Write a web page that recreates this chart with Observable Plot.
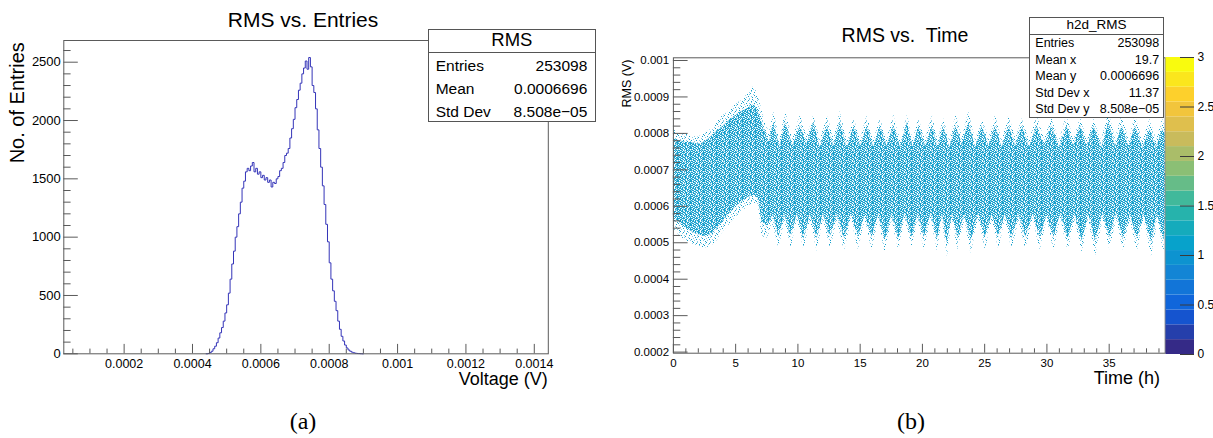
<!DOCTYPE html>
<html><head><meta charset="utf-8">
<script src="https://cdn.jsdelivr.net/npm/d3@7"></script>
<script src="https://cdn.jsdelivr.net/npm/@observablehq/plot@0.6"></script>
<style>
html,body{margin:0;padding:0;background:#fff;}
#fig{position:relative;width:1213px;height:438px;overflow:hidden;background:#fff;font-family:"Liberation Sans",Arial,sans-serif;color:#000;}
.abs{position:absolute;white-space:pre;line-height:1;}
.box{position:absolute;background:#fff;border:1px solid #555;box-sizing:border-box;}
.pl{position:absolute;top:0;}
</style></head><body><div id="fig"></div>
<script>
// ---------------- DATA ----------------
// (a) histogram of RMS voltage
const histBinStart = 0.00044;
const histBinWidth = 0.000005;
const histCounts = [
  0, 3, 10, 22, 43, 65, 95, 135, 180, 225,
  280, 350, 420, 520, 640, 770, 880, 1000, 1090, 1200,
  1300, 1420, 1480, 1560, 1590, 1570, 1610, 1640, 1560, 1590,
  1540, 1560, 1510, 1530, 1490, 1510, 1470, 1490, 1430, 1470,
  1460, 1500, 1520, 1570, 1590, 1640, 1700, 1720, 1760, 1850,
  1930, 2010, 2110, 2180, 2260, 2320, 2400, 2450, 2510, 2440,
  2540, 2460, 2300, 2240, 2100, 1920, 1760, 1600, 1440, 1280,
  1110, 960, 780, 640, 540, 450, 370, 280, 210, 150,
  110, 75, 50, 33, 22, 14, 9, 5, 3, 2,
  1, 0
];
const voltDomain = [0.0000235, 0.001441];
const countDomain = [0, 2686];
const voltTicks = [0.0002, 0.0004, 0.0006, 0.0008, 0.001, 0.0012, 0.0014];
const voltTickLabels = ["0.0002", "0.0004", "0.0006", "0.0008", "0.001", "0.0012", "0.0014"];
const countTicks = [0, 500, 1000, 1500, 2000, 2500];
const countTickLabels = ["0", "500", "1000", "1500", "2000", "2500"];
const statsLeftLabels = ["Entries", "Mean", "Std Dev"];
const statsLeftValues = ["253098", "0.0006696", "8.508e\u221205"];

// (b) RMS vs time: envelopes of the point cloud
const upT = [0, 0.5, 1, 1.5, 2, 2.5, 3, 3.5, 4, 4.5, 5, 5.5, 6, 6.5, 6.9, 7.3, 7.7,
  8.07, 8.55, 9.0, 9.6, 10.2, 10.74, 11.28, 11.8, 12.35, 12.9, 13.4, 13.95, 14.5, 15.03,
  15.57, 16.1, 16.6, 17.15, 17.7, 18.25, 18.8, 19.25, 19.7, 20.25, 20.8, 21.25, 21.7, 22.2,
  22.7, 23.2, 23.73, 24.27, 24.8, 25.34, 25.88, 26.4, 26.95, 27.5, 28.02, 28.6, 29.2, 29.8,
  30.4, 31.0, 31.6, 32.15, 32.7, 33.25, 33.77, 34.4, 34.98, 35.5, 36.05, 36.6, 37.1, 37.7,
  38.3, 38.8, 39.3, 39.5];
const upOuter = [0.00081, 0.0008, 0.0008, 0.00079, 0.00079, 0.0008, 0.00081, 0.00083, 0.00085, 0.00086, 0.00088, 0.00089, 0.00091, 0.00093, 0.00089, 0.00084, 0.0008,
  0.00086, 0.00078, 0.00086, 0.000785, 0.00085, 0.00079, 0.00085, 0.00078, 0.00085, 0.000785, 0.00086, 0.00078, 0.00084, 0.000785,
  0.00085, 0.00078, 0.00084, 0.000785, 0.00085, 0.00078, 0.00085, 0.00078, 0.00084, 0.000785, 0.00085, 0.00078, 0.00084, 0.00078,
  0.00085, 0.00079, 0.00086, 0.00078, 0.00084, 0.000785, 0.00085, 0.00078, 0.00085, 0.000785, 0.00084, 0.00078, 0.00085, 0.000785,
  0.00084, 0.00078, 0.00085, 0.000785, 0.00085, 0.00078, 0.00084, 0.00078, 0.00086, 0.000785, 0.00085, 0.00078, 0.00085, 0.00078,
  0.00084, 0.00078, 0.00084, 0.00082];
const upInner = [0.000785, 0.00078, 0.000775, 0.000775, 0.00077, 0.000775, 0.00079, 0.000805, 0.00082, 0.000835, 0.00085, 0.00086, 0.00087, 0.00088, 0.00085, 0.00081, 0.000775,
  0.00083, 0.00076, 0.00083, 0.000765, 0.00082, 0.00077, 0.00083, 0.00076, 0.00082, 0.000765, 0.00083, 0.00076, 0.00082, 0.000765,
  0.00082, 0.00076, 0.00082, 0.000765, 0.00082, 0.00076, 0.00083, 0.00076, 0.00082, 0.000765, 0.00082, 0.00076, 0.00082, 0.00076,
  0.00082, 0.00077, 0.00083, 0.00076, 0.00082, 0.000765, 0.00082, 0.00076, 0.00082, 0.000765, 0.00082, 0.00076, 0.00082, 0.000765,
  0.00082, 0.00076, 0.00082, 0.000765, 0.00082, 0.00076, 0.00082, 0.00076, 0.00083, 0.000765, 0.00082, 0.00076, 0.00082, 0.00076,
  0.00081, 0.00076, 0.00081, 0.0008];
const loT = [0, 0.5, 1, 1.5, 2, 2.5, 3, 3.5, 4, 4.5, 5, 5.5, 6, 6.5, 6.85, 7.1, 7.5, 8.0,
  8.47, 8.95, 9.45, 9.95, 10.48, 11.0, 11.55, 12.05, 12.6, 13.15, 13.75, 14.3, 14.85, 15.4,
  15.95, 16.5, 17.0, 17.55, 18.1, 18.6, 19.15, 19.65, 20.15, 20.7, 21.2, 21.6, 22.0, 22.4,
  22.85, 23.4, 23.9, 24.5, 25.05, 25.6, 26.14, 26.65, 27.2, 27.75, 28.3, 28.9, 29.45, 30.0,
  30.56, 31.1, 31.7, 32.25, 32.84, 33.35, 33.9, 34.5, 35.05, 35.6, 36.15, 36.7, 37.25, 37.8,
  38.4, 38.9, 39.4, 39.5];
const loInner = [0.00057, 0.000555, 0.00054, 0.00053, 0.000522, 0.000518, 0.000522, 0.000538, 0.00056, 0.00058, 0.000598, 0.000612, 0.000625, 0.00063, 0.00062, 0.00056, 0.000545, 0.000575,
  0.000515, 0.000578, 0.000515, 0.00058, 0.00051, 0.000578, 0.000512, 0.00058, 0.000515, 0.000578, 0.00051, 0.00058, 0.000515, 0.000578,
  0.000515, 0.00058, 0.000505, 0.000578, 0.00051, 0.00058, 0.000515, 0.000578, 0.000515, 0.00058, 0.00051, 0.000578, 0.0005, 0.00058,
  0.000512, 0.000578, 0.000505, 0.00058, 0.000515, 0.000578, 0.000515, 0.00058, 0.000512, 0.000578, 0.000515, 0.00058, 0.000512, 0.000578,
  0.000515, 0.00058, 0.000512, 0.000578, 0.000505, 0.00058, 0.000505, 0.000578, 0.000515, 0.00058, 0.000512, 0.000578, 0.000512, 0.00058,
  0.0005, 0.000578, 0.000505, 0.00056];
const loOuter = [0.00054, 0.00052, 0.000505, 0.000495, 0.00049, 0.000485, 0.00049, 0.000505, 0.00053, 0.00055, 0.00057, 0.000585, 0.0006, 0.00061, 0.0006, 0.00052, 0.00051, 0.00055,
  0.000485, 0.000562, 0.000485, 0.000565, 0.00048, 0.000562, 0.000475, 0.000565, 0.00048, 0.000562, 0.000475, 0.000565, 0.00048, 0.000562,
  0.00048, 0.000565, 0.000472, 0.000562, 0.000478, 0.000565, 0.000485, 0.000562, 0.00048, 0.000565, 0.000478, 0.000562, 0.000462, 0.000565,
  0.000478, 0.000562, 0.00047, 0.000565, 0.00048, 0.000562, 0.00048, 0.000565, 0.000478, 0.000562, 0.00048, 0.000565, 0.000478, 0.000562,
  0.00048, 0.000565, 0.000478, 0.000562, 0.000472, 0.000565, 0.000462, 0.000562, 0.00048, 0.000565, 0.000478, 0.000562, 0.000475, 0.000565,
  0.000462, 0.000562, 0.00047, 0.000545];
const bandSplit = 0.00068;
const timeDomain = [0, 39.5];
const rmsDomain = [0.000197, 0.0010074];
const timeTicks = [0, 5, 10, 15, 20, 25, 30, 35];
const timeTickLabels = ["0", "5", "10", "15", "20", "25", "30", "35"];
const rmsTicks = [0.0002, 0.0003, 0.0004, 0.0005, 0.0006, 0.0007, 0.0008, 0.0009, 0.001];
const rmsTickLabels = ["0.0002", "0.0003", "0.0004", "0.0005", "0.0006", "0.0007", "0.0008", "0.0009", "0.001"];
const statsRightLabels = ["Entries", "Mean x", "Mean y", "Std Dev x", "Std Dev y"];
const statsRightValues = ["253098", "19.7", "0.0006696", "11.37", "8.508e\u221205"];

// colour bar (ROOT kBird palette, 20 contours, range 0..3)
const zDomain = [0, 3];
const zTicks = [0, 0.5, 1, 1.5, 2, 2.5, 3];
const zTickLabels = ["0", "0.5", "1", "1.5", "2", "2.5", "3"];
const birdStops = [0, 0.125, 0.25, 0.375, 0.5, 0.625, 0.75, 0.875, 1];
const birdR = [0.2082, 0.0592, 0.0780, 0.0232, 0.1802, 0.5301, 0.8186, 0.9956, 0.9764];
const birdG = [0.1664, 0.3599, 0.5041, 0.6419, 0.7178, 0.7492, 0.7328, 0.7862, 0.9832];
const birdB = [0.5293, 0.8684, 0.8385, 0.7914, 0.6425, 0.4662, 0.3499, 0.1968, 0.0539];
const nContours = 20;

// ---------------- STYLE ----------------
const FONT = '"Liberation Sans", Arial, Helvetica, sans-serif';
const SERIF = '"Liberation Serif", "DejaVu Serif", serif';
const AX = "#5a5a5a";
const HIST_COLOR = "#3434b8";
const CLOUD_OUTER = "#c4e4f1";
const CLOUD_INNER = "#45acd6";
const DOT_DARK = "#15a0cc";
const DOT_LIGHT = "#86cde8";
// speckle textures for the point cloud ('d' dark dot, 'l' light dot, '.' empty)
const coreTexture = [
  "dld.dlddl.dld", ".ddld.ldd.lld", "dl.ddl.dldd.l", "ldd.lddl.d.dd", "d.ldd.ld.ldld",
  "dld.ld.ddl.dd", "l.ddl.dld.dl.", "dd.ld.l.ddldl", ".ldd.dlld.d.d", "dd.lddd.ld.ld", "l.dd.l.dd.ldd"];
const fringeTexture = [
  "..d...l..d...", ".l...d....l..", "....l...d...d", "d.......l....", "...d..l....d.",
  ".l.....d.....", "....d.l...l..", "..l........d.", "d....d..l....", "...l.....d..l", ".d....l......"];

const fig = document.getElementById("fig");

function addPlot(svg, left) {
  const d = document.createElement("div");
  d.className = "pl";
  d.style.left = left + "px";
  d.appendChild(svg);
  fig.appendChild(d);
}
function addText(txt, x, base, fs, anchor, family) {
  family = family || FONT;
  const k = family === SERIF ? 0.8375 : 0.8465;
  const d = document.createElement("div");
  d.className = "abs";
  d.textContent = txt;
  d.style.fontSize = fs + "px";
  d.style.fontFamily = family;
  d.style.top = (base - k * fs) + "px";
  if (anchor === "middle") { d.style.left = (x - 300) + "px"; d.style.width = "600px"; d.style.textAlign = "center"; }
  else if (anchor === "end") { d.style.left = (x - 600) + "px"; d.style.width = "600px"; d.style.textAlign = "right"; }
  else { d.style.left = x + "px"; }
  fig.appendChild(d);
}
function addBox(x, y, w, h, divY) {
  const b = document.createElement("div");
  b.className = "box";
  b.style.left = x + "px"; b.style.top = y + "px";
  b.style.width = w + "px"; b.style.height = h + "px";
  fig.appendChild(b);
  const l = document.createElement("div");
  l.style.position = "absolute";
  l.style.left = x + "px"; l.style.width = w + "px";
  l.style.top = (divY - 0.5) + "px"; l.style.height = "1px";
  l.style.background = "#555";
  fig.appendChild(l);
}
function addPattern(svg, id, rows) {
  const s = d3.select(svg);
  let defs = s.select("defs");
  if (defs.empty()) defs = s.insert("defs", ":first-child");
  const p = defs.append("pattern").attr("id", id).attr("patternUnits", "userSpaceOnUse")
    .attr("width", rows[0].length).attr("height", rows.length);
  p.append("rect").attr("width", rows[0].length).attr("height", rows.length).attr("fill", "#fff");
  rows.forEach((r, y) => r.split("").forEach((c, x) => {
    if (c === "d" || c === "l") p.append("rect").attr("x", x).attr("y", y).attr("width", 1).attr("height", 1)
      .attr("fill", c === "d" ? DOT_DARK : DOT_LIGHT);
  }));
}
const plotStyle = {fontFamily: FONT, background: "transparent", overflow: "visible", color: "#000"};

// ---------------- (a) LEFT PANEL ----------------
const L = {w: 600, h: 438, ml: 63.3, mr: 52.2, mt: 40, mb: 84.7};
const fwL = L.w - L.ml - L.mr, fhL = L.h - L.mt - L.mb;
const histData = histCounts.map((c, i) => ({v: histBinStart + i * histBinWidth, n: c}));
histData.push({v: histBinStart + histCounts.length * histBinWidth, n: histCounts[histCounts.length - 1]});
const voltMinor = d3.range(1, 29).filter(i => i % 4 !== 0).map(i => i * 0.00005);
const countMinor = d3.range(1, 27).filter(i => i % 5 !== 0).map(i => i * 100);

const leftPlot = Plot.plot({
  width: L.w, height: L.h,
  marginLeft: L.ml, marginRight: L.mr, marginTop: L.mt, marginBottom: L.mb,
  style: plotStyle,
  x: {domain: voltDomain},
  y: {domain: countDomain},
  marks: [
    Plot.line(histData, {x: "v", y: "n", curve: "step-after", stroke: HIST_COLOR, strokeWidth: 1}),
    Plot.tickX(voltMinor, {x: d => d, stroke: AX, insetTop: fhL - 4.7}),
    Plot.tickX(voltTicks, {x: d => d, stroke: AX, insetTop: fhL - 9.4}),
    Plot.tickY(countMinor, {y: d => d, stroke: AX, insetRight: fwL - 7.3}),
    Plot.tickY(countTicks, {y: d => d, stroke: AX, insetRight: fwL - 14.5}),
    Plot.axisX({ticks: voltTicks, tickFormat: d => voltTickLabels[voltTicks.indexOf(d)], tickSize: 0, tickPadding: 5, fontSize: 12.5, label: null}),
    Plot.axisY({ticks: countTicks, tickFormat: d => countTickLabels[countTicks.indexOf(d)], tickSize: 0, tickPadding: 3, fontSize: 13, label: null}),
    Plot.frame({stroke: AX}),
    Plot.text(["No. of Entries"], {text: d => d, frameAnchor: "top-left", rotate: -90, textAnchor: "end", dx: -54.5, dy: 1.7, fontSize: 20})
  ]
});
addPlot(leftPlot, 0);

// ---------------- (b) RIGHT PANEL ----------------
const R = {w: 566, h: 438, ml: 72.9, mr: 1.3, mt: 57.3, mb: 85.3};
const fwR = R.w - R.ml - R.mr, fhR = R.h - R.mt - R.mb;
const upData = upT.map((t, i) => ({t, outer: upOuter[i], inner: upInner[i]}));
const loData = loT.map((t, i) => ({t, outer: loOuter[i], inner: loInner[i]}));
const timeMinor = d3.range(1, 40).filter(i => i % 5 !== 0);
const rmsMinor = d3.range(10, 51).filter(i => i % 5 !== 0).map(i => i * 0.00002);

const rightPlot = Plot.plot({
  width: R.w, height: R.h,
  marginLeft: R.ml, marginRight: R.mr, marginTop: R.mt, marginBottom: R.mb,
  style: plotStyle,
  x: {domain: timeDomain},
  y: {domain: rmsDomain},
  marks: [
    Plot.areaY(upData, {x: "t", y1: () => bandSplit, y2: "outer", fill: CLOUD_OUTER}),
    Plot.areaY(loData, {x: "t", y1: "outer", y2: () => bandSplit, fill: CLOUD_OUTER}),
    Plot.areaY(upData, {x: "t", y1: () => bandSplit - 0.00001, y2: "inner", fill: CLOUD_INNER}),
    Plot.areaY(loData, {x: "t", y1: "inner", y2: () => bandSplit + 0.00001, fill: CLOUD_INNER}),
    Plot.tickX(timeMinor, {x: d => d, stroke: AX, insetTop: fhR - 4.4}),
    Plot.tickX(timeTicks, {x: d => d, stroke: AX, insetTop: fhR - 8.9}),
    Plot.tickY(rmsMinor, {y: d => d, stroke: AX, insetRight: fwR - 7.4}),
    Plot.tickY(rmsTicks, {y: d => d, stroke: AX, insetRight: fwR - 14.7}),
    Plot.axisX({ticks: timeTicks, tickFormat: d => timeTickLabels[timeTicks.indexOf(d)], tickSize: 0, tickPadding: 6, fontSize: 11.5, label: null}),
    Plot.axisY({ticks: rmsTicks, tickFormat: d => rmsTickLabels[rmsTicks.indexOf(d)], tickSize: 0, tickPadding: 4.3, fontSize: 11.5, label: null}),
    Plot.frame({stroke: AX}),
    Plot.text(["RMS (V)"], {text: d => d, frameAnchor: "top-left", rotate: -90, textAnchor: "end", dx: -51, dy: 1.7, fontSize: 12.5})
  ]
});
// speckled look of the dense point cloud
addPattern(rightPlot, "cloudCore", coreTexture);
addPattern(rightPlot, "cloudFringe", fringeTexture);
d3.select(rightPlot).selectAll(`[fill="${CLOUD_INNER}"]`).attr("fill", "url(#cloudCore)");
d3.select(rightPlot).selectAll(`[fill="${CLOUD_OUTER}"]`).attr("fill", "url(#cloudFringe)");
addPlot(rightPlot, 600);

// ---------------- COLOUR BAR ----------------
const toHex = (r, g, b) => d3.rgb(r * 255, g * 255, b * 255).formatHex();
const birdColors = birdStops.map((s, i) => toHex(birdR[i], birdG[i], birdB[i]));
const bird = d3.scaleLinear().domain(birdStops).range(birdColors).interpolate(d3.interpolateRgb);
const zStep = (zDomain[1] - zDomain[0]) / nContours;
const bands = d3.range(nContours).map(i => ({lo: zDomain[0] + i * zStep, hi: zDomain[0] + (i + 1) * zStep, c: bird(i / (nContours - 1))}));
const C = {w: 48, h: 438, ml: 0.5, mr: 19, mt: 57, mb: 84};
const cbar = Plot.plot({
  width: C.w, height: C.h,
  marginLeft: C.ml, marginRight: C.mr, marginTop: C.mt, marginBottom: C.mb,
  style: plotStyle,
  y: {domain: zDomain},
  color: {type: "identity"},
  marks: [
    Plot.rect(bands, {y1: "lo", y2: "hi", fill: "c"}),
    Plot.tickY(zTicks, {y: d => d, stroke: "#3a3a3a", insetLeft: (C.w - C.ml - C.mr) - 14}),
    Plot.axisY({anchor: "right", ticks: zTicks, tickFormat: d => zTickLabels[zTicks.indexOf(d)], tickSize: 0, tickPadding: 3, fontSize: 12, label: null})
  ]
});
addPlot(cbar, 1165);

// ---------------- TEXT & STATS BOXES ----------------
addText("RMS vs. Entries", 303, 26.7, 21, "middle");
addText("Voltage (V)", 547.8, 385, 18, "end");
addText("(a)", 303, 429.5, 24, "middle", SERIF);

addBox(427.6, 28.7, 168.6, 93.6, 52);
addText("RMS", 511.9, 46.7, 18.5, "middle");
const leftBases = [70.7, 94, 117.3];
statsLeftLabels.forEach((s, i) => {
  addText(s, 435.7, leftBases[i], 15.5, "start");
  addText(statsLeftValues[i], 587.3, leftBases[i], 15.5, "end");
});

addText("RMS vs.  Time", 905, 42.7, 19.5, "middle");
addText("Time (h)", 1160, 384.5, 18, "end");
addText("(b)", 911, 429.5, 24, "middle", SERIF);

addBox(1028.6, 17.3, 135.9, 101, 34);
addText("h2d_RMS", 1096.5, 29.5, 13.5, "middle");
const rightBases = [47.5, 64.5, 80.5, 97.5, 113.5];
statsRightLabels.forEach((s, i) => {
  addText(s, 1035.3, rightBases[i], 12.5, "start");
  addText(statsRightValues[i], 1159.2, rightBases[i], 12.5, "end");
});
</script>
</body></html>
